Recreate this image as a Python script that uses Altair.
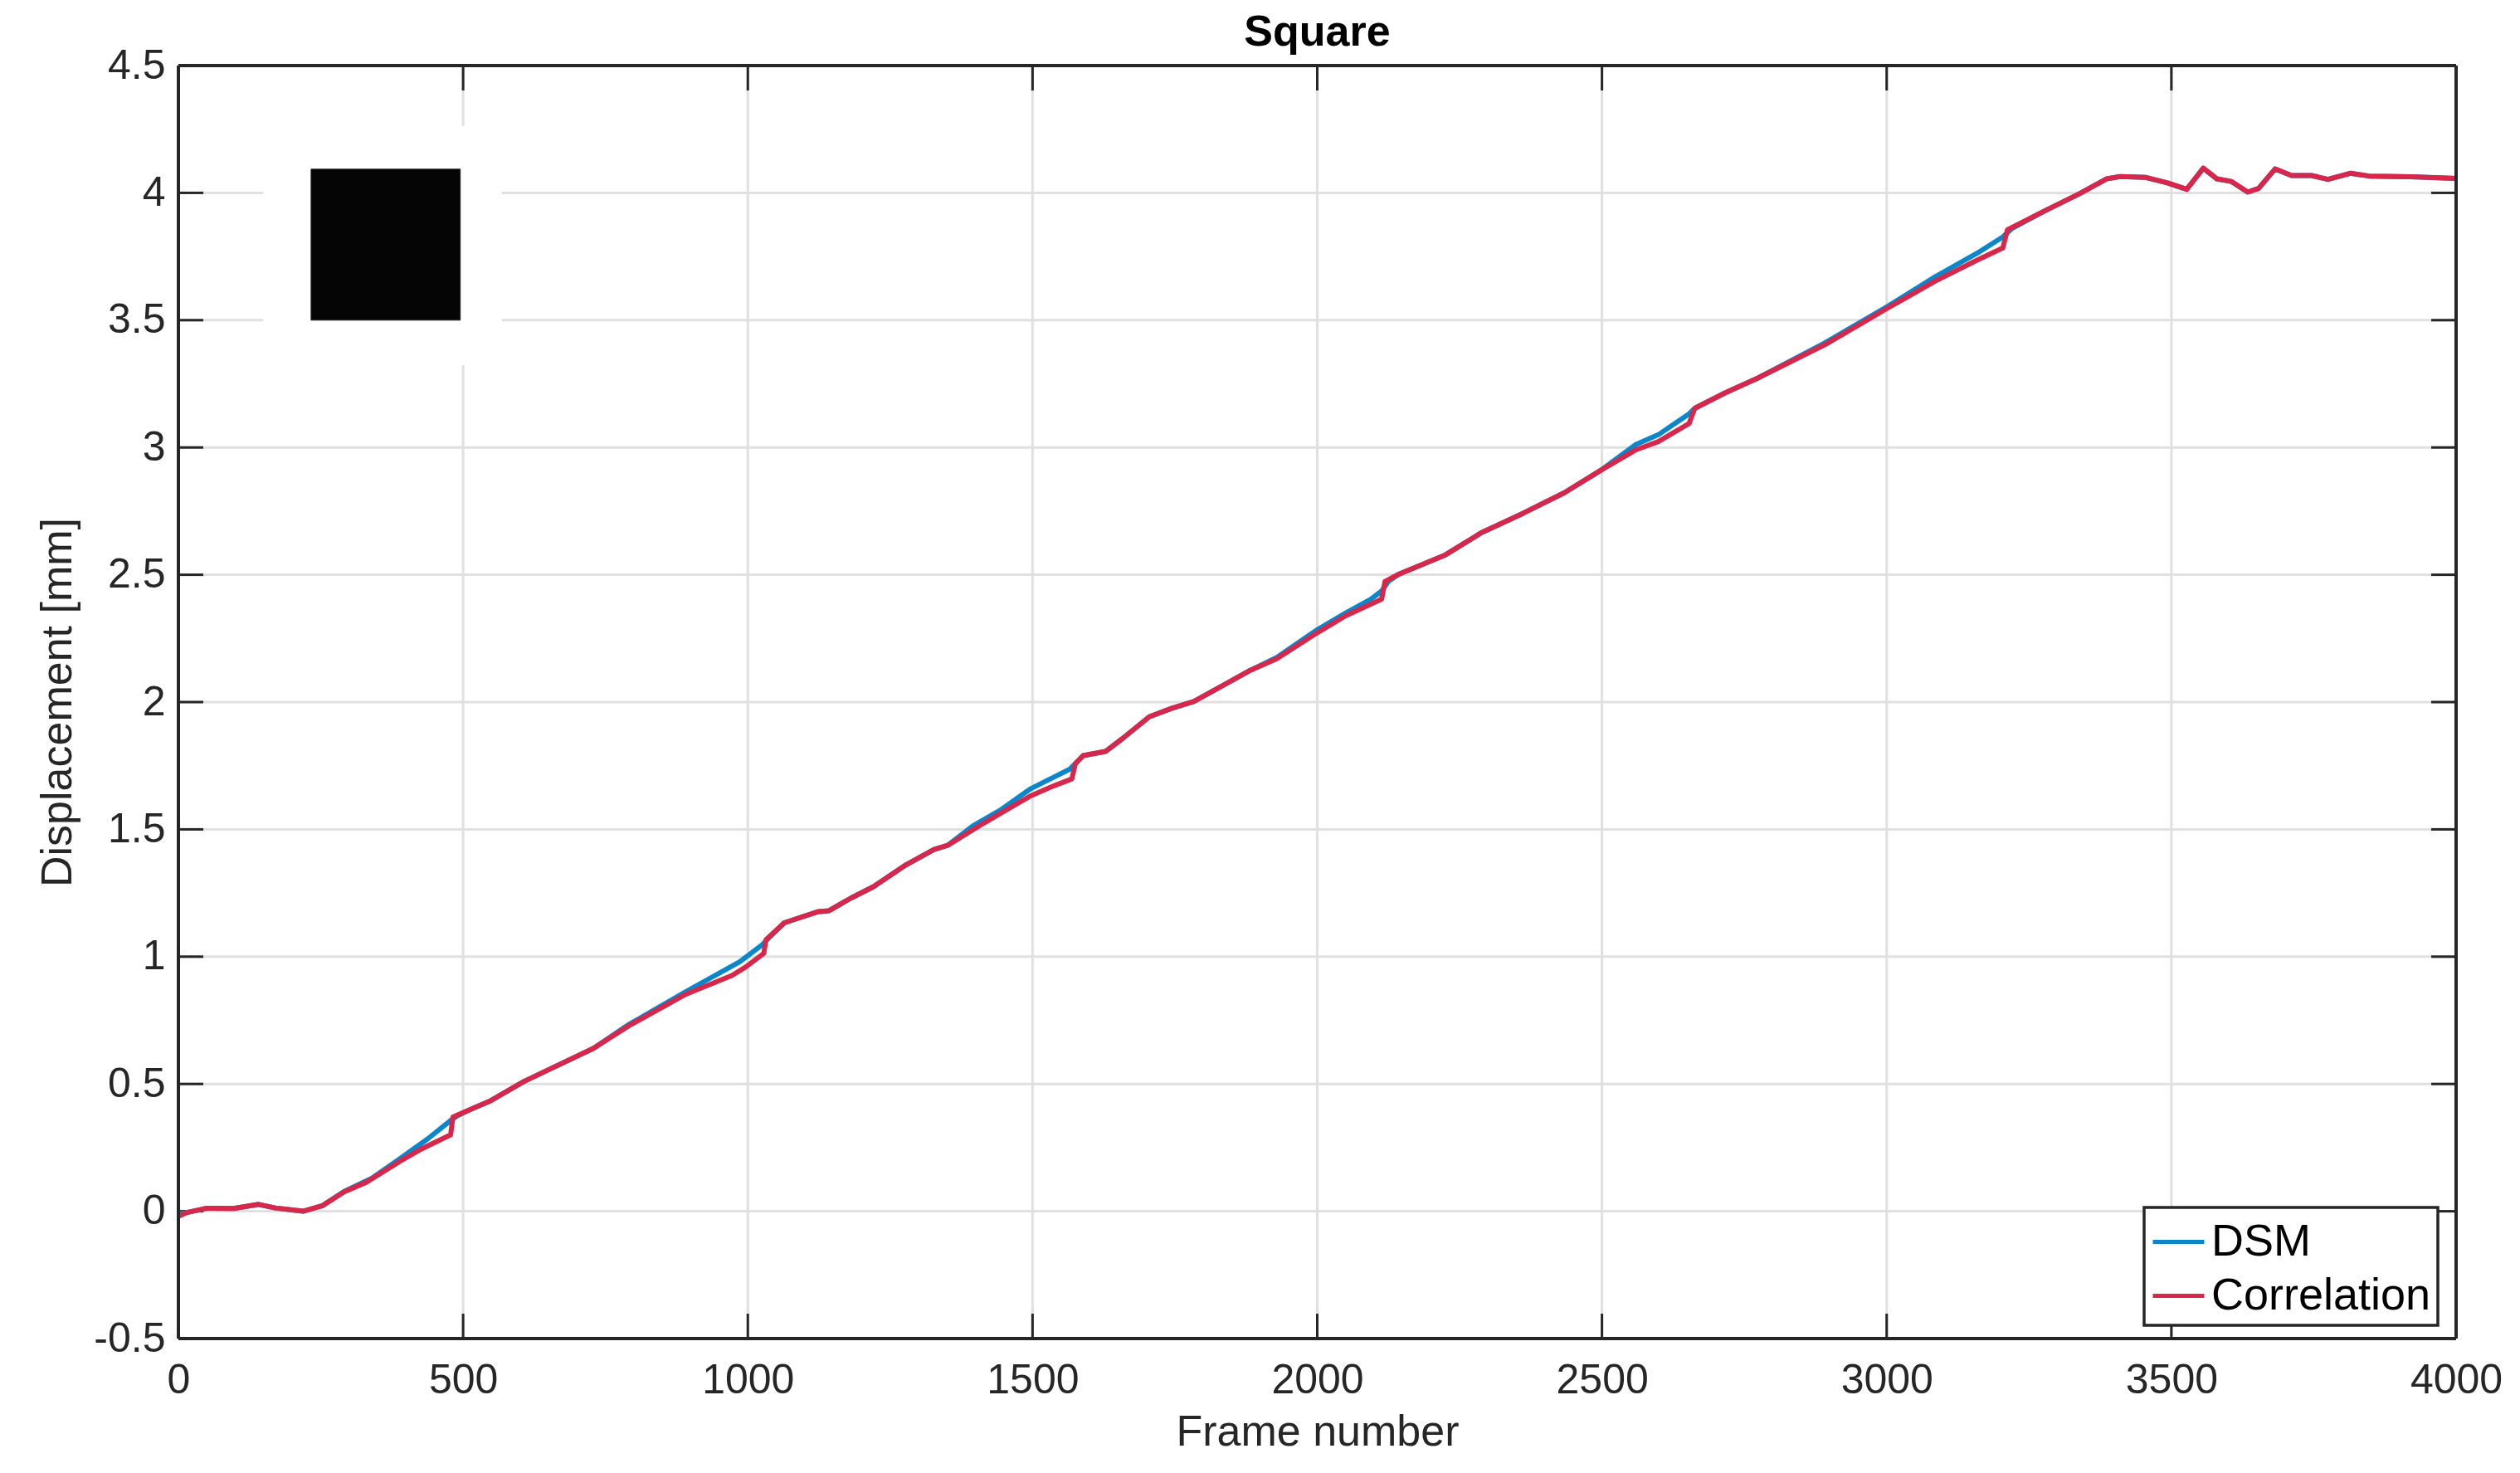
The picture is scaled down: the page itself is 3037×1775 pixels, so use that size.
import altair as alt
import pandas as pd

# ---------------- data ----------------
dsm_frame = [0, 15, 50, 97, 141, 170, 219, 253, 291, 340, 389, 437, 476, 490, 510, 549, 607, 729,
             792, 889, 986, 1025, 1040, 1064, 1122, 1142, 1181, 1220, 1278, 1327, 1351, 1395,
             1443, 1497, 1531, 1565, 1589, 1628, 1657, 1705, 1744, 1783, 1832, 1880, 1929, 1997,
             2050, 2094, 2113, 2125, 2143, 2225, 2288, 2361, 2434, 2497, 2560, 2599, 2653, 2663,
             2716, 2774, 2891, 3000, 3085, 3158, 3204, 3220, 3279, 3338, 3386, 3410, 3454, 3493,
             3527, 3556, 3580, 3605, 3634, 3653, 3682, 3711, 3746, 3775, 3814, 3847, 3920, 4000]
dsm_disp = [-0.01, -0.005, 0.012, 0.011, 0.027, 0.013, 0.0, 0.022, 0.078, 0.130, 0.207, 0.283,
            0.353, 0.375, 0.397, 0.435, 0.510, 0.640, 0.735, 0.860, 0.980, 1.046, 1.080, 1.133,
            1.176, 1.180, 1.230, 1.274, 1.361, 1.421, 1.437, 1.513, 1.575, 1.660, 1.698, 1.736,
            1.790, 1.806, 1.855, 1.942, 1.975, 2.002, 2.062, 2.122, 2.175, 2.280, 2.350, 2.404,
            2.436, 2.474, 2.502, 2.578, 2.665, 2.741, 2.822, 2.909, 3.012, 3.050, 3.132, 3.154,
            3.214, 3.273, 3.410, 3.552, 3.670, 3.762, 3.827, 3.860, 3.931, 3.996, 4.055, 4.064,
            4.061, 4.039, 4.014, 4.097, 4.055, 4.045, 4.003, 4.017, 4.094, 4.068, 4.068, 4.053,
            4.077, 4.066, 4.063, 4.057]

corr_frame = [0, 15, 50, 97, 141, 170, 219, 253, 291, 330, 389, 427, 478, 482, 510, 549, 607, 729,
              792, 889, 972, 996, 1028, 1032, 1064, 1122, 1142, 1181, 1220, 1278, 1327, 1351, 1414,
              1443, 1497, 1531, 1569, 1575, 1589, 1628, 1657, 1705, 1744, 1783, 1832, 1880, 1929,
              1997, 2050, 2113, 2119, 2143, 2225, 2288, 2361, 2434, 2497, 2560, 2599, 2653, 2663,
              2716, 2774, 2891, 3000, 3085, 3158, 3204, 3212, 3279, 3338, 3386, 3410, 3454, 3493,
              3527, 3556, 3580, 3605, 3634, 3653, 3682, 3711, 3746, 3775, 3814, 3847, 3920, 4000]
corr_disp = [-0.02, -0.005, 0.012, 0.011, 0.027, 0.013, 0.0, 0.022, 0.076, 0.114, 0.196, 0.245,
             0.300, 0.370, 0.397, 0.435, 0.510, 0.640, 0.730, 0.850, 0.926, 0.959, 1.013, 1.067,
             1.133, 1.176, 1.180, 1.230, 1.274, 1.361, 1.421, 1.437, 1.524, 1.562, 1.632, 1.665,
             1.698, 1.757, 1.790, 1.806, 1.855, 1.942, 1.975, 2.002, 2.062, 2.122, 2.170, 2.268,
             2.339, 2.404, 2.474, 2.502, 2.578, 2.665, 2.741, 2.822, 2.909, 2.991, 3.023, 3.094,
             3.154, 3.214, 3.273, 3.403, 3.545, 3.653, 3.735, 3.784, 3.855, 3.931, 3.996, 4.055,
             4.064, 4.061, 4.039, 4.014, 4.097, 4.055, 4.045, 4.003, 4.017, 4.094, 4.068, 4.068,
             4.053, 4.077, 4.066, 4.063, 4.057]

series_names = ["DSM", "Correlation"]
series_colors = ["#0A86CB", "#D8274A"]

x_ticks = [0, 500, 1000, 1500, 2000, 2500, 3000, 3500, 4000]
y_ticks = [-0.5, 0, 0.5, 1, 1.5, 2, 2.5, 3, 3.5, 4, 4.5]

# inset picture (white background and black square), in data units
inset_frame = [149, 568]
inset_disp = [3.323, 4.262]
square_frame = [233, 495]
square_disp = [3.50, 4.093]

# ---------------- chart ----------------
W, H = 2745, 1534
FONT = "Liberation Sans"
TXT = "#262626"
GRID = "#E0E0E0"
TICK_LEN = 30
LW = 6

xscale = alt.Scale(domain=[0, 4000], nice=False, zero=False)
yscale = alt.Scale(domain=[-0.5, 4.5], nice=False, zero=False)

xt_df = pd.DataFrame({"xt": x_ticks})
yt_df = pd.DataFrame({"yt": y_ticks})

x_axis = alt.Axis(values=x_ticks, grid=False, ticks=False, domain=False,
                  labelExpr="datum.value + ''", labelPadding=25, labelFlush=False,
                  labelOverlap=False,
                  labelFont=FONT, labelFontSize=50, labelColor=TXT,
                  title="Frame number", titlePadding=12, titleFont=FONT,
                  titleFontSize=52, titleFontWeight="normal", titleColor=TXT)
y_axis = alt.Axis(values=y_ticks, grid=False, ticks=False, domain=False,
                  labelExpr="datum.value + ''", labelPadding=16, labelFlush=False,
                  labelOverlap=False,
                  labelFont=FONT, labelFontSize=50, labelColor=TXT,
                  title="Displacement [mm]", titlePadding=16, titleFont=FONT,
                  titleFontSize=52, titleFontWeight="normal", titleColor=TXT)

color_enc = alt.Color(
    "series:N",
    scale=alt.Scale(domain=series_names, range=series_colors),
    legend=alt.Legend(
        title=None, orient="none", legendX=2369, legendY=1376,
        symbolType="stroke", symbolSize=3844, symbolStrokeWidth=5,
        labelFont=FONT, labelFontSize=54, labelColor="black", labelLimit=600,
        labelOffset=6, fillColor="white", strokeColor=TXT, padding=8, rowPadding=4,
    ),
)

dsm_df = pd.DataFrame({"frame": dsm_frame, "disp": dsm_disp, "series": series_names[0]})
corr_df = pd.DataFrame({"frame": corr_frame, "disp": corr_disp, "series": series_names[1]})

line_dsm = alt.Chart(dsm_df).mark_line(strokeWidth=LW, strokeJoin="round").encode(
    x=alt.X("frame:Q", scale=xscale, axis=x_axis),
    y=alt.Y("disp:Q", scale=yscale, axis=y_axis),
    color=color_enc,
    order="frame:Q",
)
line_corr = alt.Chart(corr_df).mark_line(strokeWidth=LW, strokeJoin="round").encode(
    x=alt.X("frame:Q", scale=xscale, axis=x_axis),
    y=alt.Y("disp:Q", scale=yscale, axis=y_axis),
    color=color_enc,
    order="frame:Q",
)

grid_x = alt.Chart(xt_df).mark_rule(color=GRID, strokeWidth=3).encode(
    x=alt.X("xt:Q", scale=xscale, axis=x_axis))
grid_y = alt.Chart(yt_df).mark_rule(color=GRID, strokeWidth=3).encode(
    y=alt.Y("yt:Q", scale=yscale, axis=y_axis))

inset_df = pd.DataFrame({"x1": [inset_frame[0]], "x2": [inset_frame[1]],
                         "y1": [inset_disp[0]], "y2": [inset_disp[1]]})
square_df = pd.DataFrame({"x1": [square_frame[0]], "x2": [square_frame[1]],
                          "y1": [square_disp[0]], "y2": [square_disp[1]]})
inset_white = alt.Chart(inset_df).mark_rect(color="white").encode(
    x=alt.X("x1:Q", scale=xscale, axis=x_axis), x2="x2:Q",
    y=alt.Y("y1:Q", scale=yscale, axis=y_axis), y2="y2:Q")
inset_black = alt.Chart(square_df).mark_rect(color="#050505", stroke="#202020", strokeWidth=1).encode(
    x=alt.X("x1:Q", scale=xscale, axis=x_axis), x2="x2:Q",
    y=alt.Y("y1:Q", scale=yscale, axis=y_axis), y2="y2:Q")

tick_style = dict(color=TXT, strokeWidth=3)
ticks_bottom = alt.Chart(xt_df).mark_rule(**tick_style).encode(
    x=alt.X("xt:Q", scale=xscale, axis=x_axis), y=alt.value(H), y2=alt.value(H - TICK_LEN))
ticks_top = alt.Chart(xt_df).mark_rule(**tick_style).encode(
    x=alt.X("xt:Q", scale=xscale, axis=x_axis), y=alt.value(0), y2=alt.value(TICK_LEN))
ticks_left = alt.Chart(yt_df).mark_rule(**tick_style).encode(
    y=alt.Y("yt:Q", scale=yscale, axis=y_axis), x=alt.value(0), x2=alt.value(TICK_LEN))
ticks_right = alt.Chart(yt_df).mark_rule(**tick_style).encode(
    y=alt.Y("yt:Q", scale=yscale, axis=y_axis), x=alt.value(W), x2=alt.value(W - TICK_LEN))

# plot frame (box on)
frame_style = dict(color=TXT, strokeWidth=3.5)
frame_left = alt.Chart(xt_df).mark_rule(**frame_style).encode(
    x=alt.value(0), y=alt.value(0), y2=alt.value(H))
frame_right = alt.Chart(xt_df).mark_rule(**frame_style).encode(
    x=alt.value(W), y=alt.value(0), y2=alt.value(H))
frame_top = alt.Chart(xt_df).mark_rule(**frame_style).encode(
    y=alt.value(0), x=alt.value(0), x2=alt.value(W))
frame_bottom = alt.Chart(xt_df).mark_rule(**frame_style).encode(
    y=alt.value(H), x=alt.value(0), x2=alt.value(W))

chart = alt.layer(
    grid_x, grid_y, inset_white, inset_black,
    ticks_bottom, ticks_top, ticks_left, ticks_right,
    line_dsm, line_corr,
    frame_left, frame_right, frame_top, frame_bottom,
).properties(
    width=W, height=H,
    title=alt.Title("Square", font=FONT, fontSize=52, fontWeight="bold", color="black",
                    anchor="middle", offset=-12),
    padding={"left": 35, "top": 5, "right": 5, "bottom": 5},
).configure_view(
    strokeWidth=0,
).configure_legend(
    strokeWidth=3.5,
)

chart.save("out.html", embed_options={"renderer": "svg", "actions": False})
